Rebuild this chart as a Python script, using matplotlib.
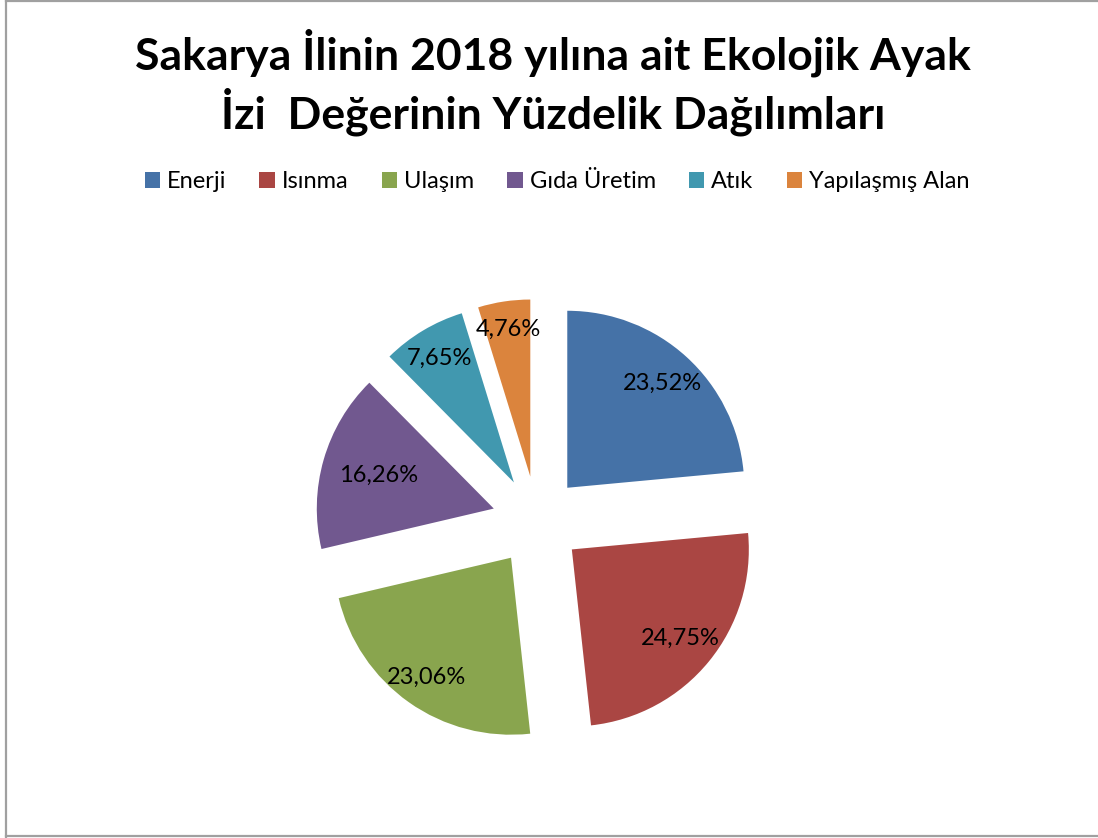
import matplotlib
matplotlib.use('Agg')
import matplotlib.pyplot as plt
import numpy as np
from matplotlib.lines import Line2D
from matplotlib.patches import Patch

categories = ['Enerji', 'Isınma', 'Ulaşım', 'Gıda Üretim', 'Atık', 'Yapılaşmış Alan']
values = [23.52, 24.75, 23.06, 16.26, 7.65, 4.76]
colors = ['#4572A7', '#AA4643', '#89A54E', '#71588F', '#4198AF', '#DB843D']
label_dist = [0.80, 0.79, 0.83, 0.68, 0.82, 0.84]
title = 'Sakarya İlinin 2018 yılına ait Ekolojik Ayak\nİzi  Değerinin Yüzdelik Dağılımları'

FONT = 'Lato'
W, H = 1098, 838
fig = plt.figure(figsize=(W / 100, H / 100), dpi=100)
fig.patch.set_facecolor('white')

# frame lines
lc = '#A0A0A0'
fig.add_artist(Line2D([6 / W, 6 / W], [0, 1], transform=fig.transFigure, color=lc, lw=1.6))
fig.add_artist(Line2D([6 / W, 1], [1 - 1 / H, 1 - 1 / H], transform=fig.transFigure, color=lc, lw=1.6))
fig.add_artist(Line2D([6 / W, 1], [2 / H, 2 / H], transform=fig.transFigure, color=lc, lw=1.6))

cx, cy, R = 537, 521, 177
half = 1.6 * R
ax = fig.add_axes([(cx - half) / W, (H - cy - half) / H, 2 * half / W, 2 * half / H])
explode = 0.254
wedges, _ = ax.pie(values, colors=colors, startangle=90, counterclock=False,
                   explode=[explode] * len(values), radius=1,
                   wedgeprops=dict(linewidth=0))
ax.set_xlim(-1.6, 1.6)
ax.set_ylim(-1.6, 1.6)
ax.set_aspect('equal')
ax.axis('off')

for w, v, d in zip(wedges, values, label_dist):
    ang = np.deg2rad((w.theta1 + w.theta2) / 2)
    x0, y0 = w.center
    ax.text(x0 + d * np.cos(ang), y0 + d * np.sin(ang),
            f'{v:.2f}%'.replace('.', ','), ha='center', va='center',
            fontsize=17, family=FONT, color='black')

fig.text(553 / W, 1 - 82 / H, title, ha='center', va='center', fontsize=32,
         fontweight='bold', family=FONT, linespacing=1.25)

handles = [Patch(facecolor=c, edgecolor='none') for c in colors]
fig.legend(handles, categories, loc='center', bbox_to_anchor=(557 / W, 1 - 182 / H),
           ncol=6, frameon=False, prop={'family': FONT, 'size': 17},
           handlelength=0.65, handleheight=0.65, handletextpad=0.3, columnspacing=1.4)

fig.savefig('out.png', dpi=100, facecolor='white')
